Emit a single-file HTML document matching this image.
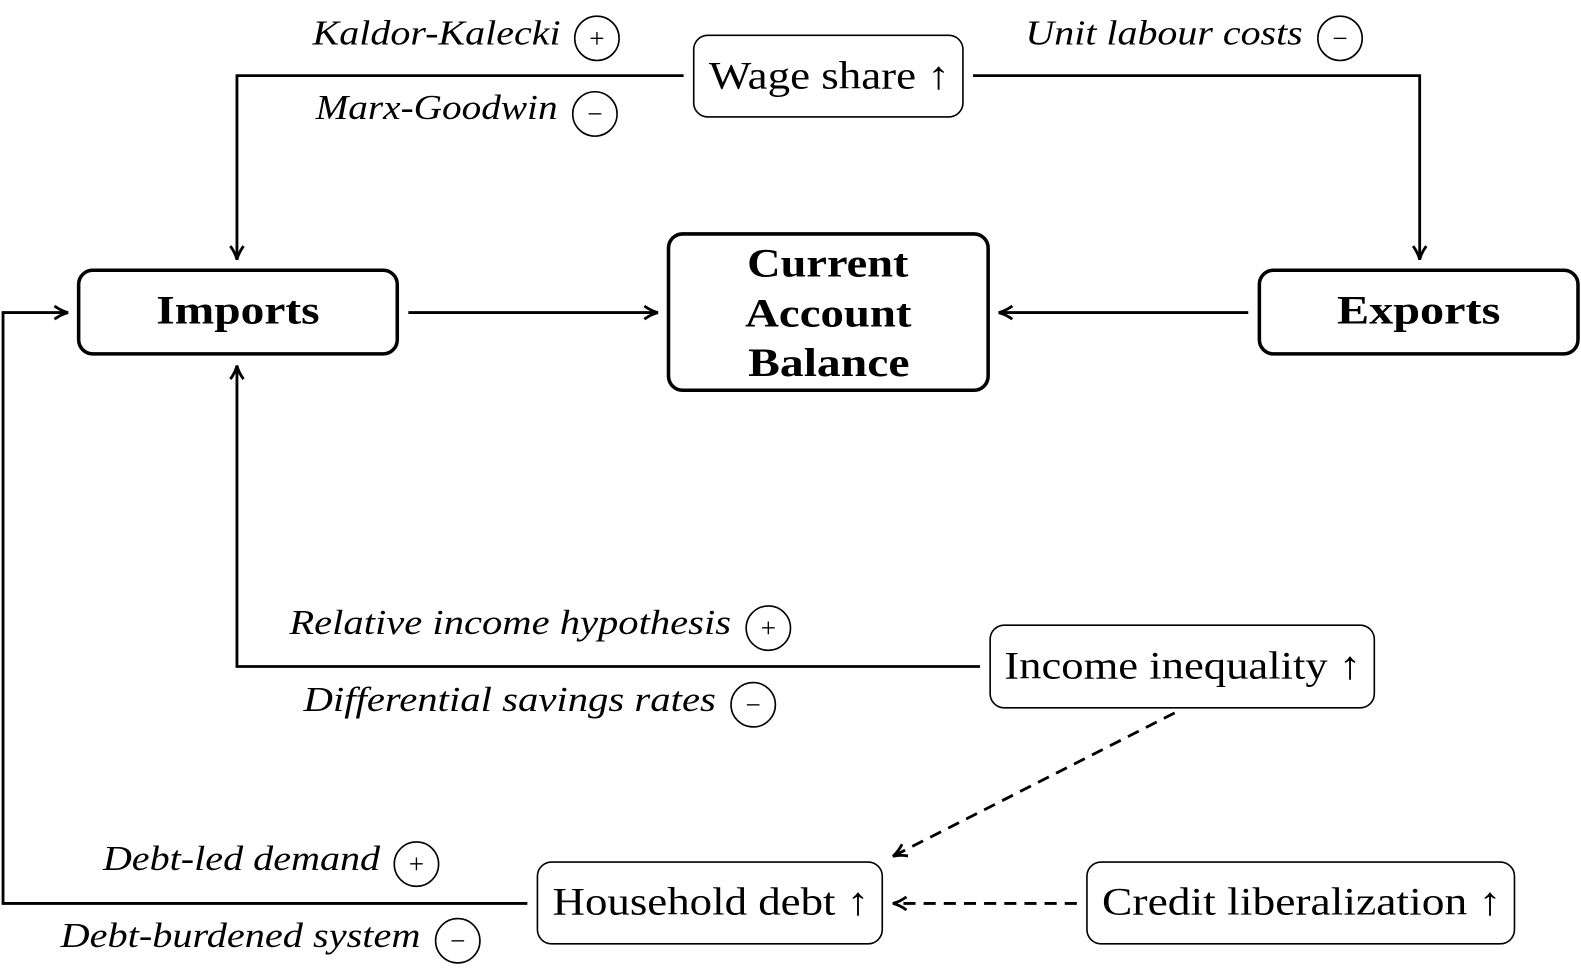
<!DOCTYPE html>
<html><head><meta charset="utf-8"><style>
html,body{margin:0;padding:0;background:#fff;}
svg{display:block;}
text{font-family:"Liberation Serif",serif;fill:#000;}
.it{font-style:italic;font-size:35px;}
.bx{font-size:39px;}
.bd{font-size:40px;font-weight:bold;}
.c{fill:none;stroke:#000;stroke-width:1.6;}
.cs{font-size:27px;font-style:normal;}
</style></head><body>
<svg width="1581" height="979" viewBox="0 0 1581 979" xmlns="http://www.w3.org/2000/svg">
<defs>
<marker id="a" viewBox="0 0 16 16" refX="14" refY="8" markerWidth="16" markerHeight="16" markerUnits="userSpaceOnUse" orient="auto">
<path d="M1,1.5 Q8,6.5 14.5,8 Q8,9.5 1,14.5" fill="none" stroke="#000" stroke-width="2.8"/>
</marker>
</defs>
<g transform="scale(1.0083)">
<g fill="none" stroke="#000">
<rect x="688" y="35" width="267" height="81" rx="14" stroke-width="1.6"/>
<rect x="78" y="268" width="316" height="83" rx="14" stroke-width="3.5"/>
<rect x="663" y="232" width="317" height="155" rx="14" stroke-width="3.5"/>
<rect x="1249" y="268" width="316" height="83" rx="14" stroke-width="3.5"/>
<rect x="982" y="620" width="381" height="82" rx="14" stroke-width="1.6"/>
<rect x="533" y="855" width="342" height="81" rx="14" stroke-width="1.6"/>
<rect x="1078" y="855" width="424" height="81" rx="14" stroke-width="1.6"/>
<g stroke-width="2.8">
<polyline points="678,75 235,75 235,257" marker-end="url(#a)"/>
<polyline points="965,75 1408,75 1408,257" marker-end="url(#a)"/>
<line x1="405" y1="310" x2="652" y2="310" marker-end="url(#a)"/>
<line x1="1238" y1="310" x2="991" y2="310" marker-end="url(#a)"/>
<polyline points="972,661 235,661 235,363" marker-end="url(#a)"/>
<polyline points="523,896 3,896 3,310 67,310" marker-end="url(#a)"/>
<line x1="1165" y1="707" x2="886" y2="849" stroke-dasharray="12,8" marker-end="url(#a)"/>
<line x1="1068" y1="896" x2="886" y2="896" stroke-dasharray="12,8" marker-end="url(#a)"/>
</g>
</g>
<text class="bx" x="703" y="88" textLength="239" lengthAdjust="spacingAndGlyphs">Wage share ↑</text>
<text class="bd" x="155" y="321" textLength="162" lengthAdjust="spacingAndGlyphs">Imports</text>
<text class="bd" x="741" y="274" textLength="160" lengthAdjust="spacingAndGlyphs">Current</text>
<text class="bd" x="739" y="324" textLength="165" lengthAdjust="spacingAndGlyphs">Account</text>
<text class="bd" x="742" y="373" textLength="160" lengthAdjust="spacingAndGlyphs">Balance</text>
<text class="bd" x="1326" y="321" textLength="162" lengthAdjust="spacingAndGlyphs">Exports</text>
<text class="bx" x="996" y="673" textLength="354" lengthAdjust="spacingAndGlyphs">Income inequality ↑</text>
<text class="bx" x="548" y="907" textLength="314" lengthAdjust="spacingAndGlyphs">Household debt ↑</text>
<text class="bx" x="1093" y="907" textLength="396" lengthAdjust="spacingAndGlyphs">Credit liberalization ↑</text>

<text class="it" x="310" y="44" textLength="246" lengthAdjust="spacingAndGlyphs">Kaldor-Kalecki</text>
<circle class="c" cx="592" cy="38" r="22"/><text class="cs" x="592" y="47" text-anchor="middle">+</text>
<text class="it" x="313" y="118" textLength="240" lengthAdjust="spacingAndGlyphs">Marx-Goodwin</text>
<circle class="c" cx="590" cy="113" r="22"/><text class="cs" x="590" y="122" text-anchor="middle">−</text>
<text class="it" x="1017" y="44" textLength="275" lengthAdjust="spacingAndGlyphs">Unit labour costs</text>
<circle class="c" cx="1329" cy="38" r="22"/><text class="cs" x="1329" y="47" text-anchor="middle">−</text>
<text class="it" x="287" y="629" textLength="438" lengthAdjust="spacingAndGlyphs">Relative income hypothesis</text>
<circle class="c" cx="762" cy="623" r="22"/><text class="cs" x="762" y="632" text-anchor="middle">+</text>
<text class="it" x="301" y="705" textLength="409" lengthAdjust="spacingAndGlyphs">Differential savings rates</text>
<circle class="c" cx="747" cy="699" r="22"/><text class="cs" x="747" y="708" text-anchor="middle">−</text>
<text class="it" x="102" y="863" textLength="275" lengthAdjust="spacingAndGlyphs">Debt-led demand</text>
<circle class="c" cx="413" cy="857" r="22"/><text class="cs" x="413" y="866" text-anchor="middle">+</text>
<text class="it" x="60" y="939" textLength="357" lengthAdjust="spacingAndGlyphs">Debt-burdened system</text>
<circle class="c" cx="454" cy="933" r="22"/><text class="cs" x="454" y="942" text-anchor="middle">−</text>
</g>
</svg>
</body></html>
